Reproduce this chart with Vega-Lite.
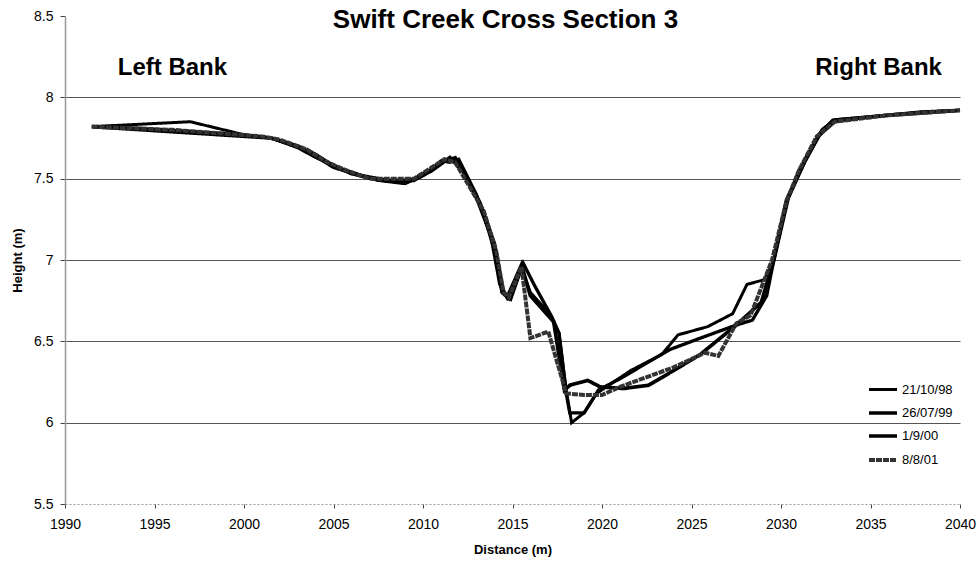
{
  "$schema": "https://vega.github.io/schema/vega-lite/v6.json",
  "width": 895,
  "height": 488,
  "autosize": {"type": "none"},
  "padding": {"left": 65, "top": 16, "right": 17, "bottom": 58},
  "background": "white",
  "title": {"text": "Swift Creek Cross Section 3", "fontSize": 26, "fontWeight": "bold", "font": "Liberation Sans", "anchor": "middle", "baseline": "alphabetic", "offset": -45, "dx": -7, "color": "#000"},
  "config": {
    "view": {"stroke": null},
    "font": "Liberation Sans",
    "axis": {"labelFont": "Liberation Sans", "labelFontSize": 14, "labelColor": "#000", "titleFont": "Liberation Sans", "titleFontSize": 13, "titleFontWeight": "bold", "titleColor": "#000", "tickColor": "#444"}
  },
  "layer": [
    {
      "data": {"values": [
        {"series":"21/10/98","x":1991.5,"y":7.82},{"series":"21/10/98","x":1997,"y":7.85},{"series":"21/10/98","x":2000,"y":7.77},{"series":"21/10/98","x":2001.5,"y":7.75},{"series":"21/10/98","x":2003,"y":7.69},{"series":"21/10/98","x":2004,"y":7.63},{"series":"21/10/98","x":2005,"y":7.58},{"series":"21/10/98","x":2006,"y":7.54},{"series":"21/10/98","x":2007.5,"y":7.49},{"series":"21/10/98","x":2008.5,"y":7.48},{"series":"21/10/98","x":2009.5,"y":7.5},{"series":"21/10/98","x":2010.5,"y":7.56},{"series":"21/10/98","x":2011,"y":7.61},{"series":"21/10/98","x":2011.5,"y":7.6},{"series":"21/10/98","x":2012,"y":7.62},{"series":"21/10/98","x":2013,"y":7.4},{"series":"21/10/98","x":2013.6,"y":7.2},{"series":"21/10/98","x":2014,"y":7.05},{"series":"21/10/98","x":2014.4,"y":6.8},{"series":"21/10/98","x":2014.8,"y":6.76},{"series":"21/10/98","x":2015.5,"y":6.95},{"series":"21/10/98","x":2016,"y":6.8},{"series":"21/10/98","x":2017,"y":6.68},{"series":"21/10/98","x":2017.6,"y":6.55},{"series":"21/10/98","x":2018,"y":6.2},{"series":"21/10/98","x":2018.3,"y":6.0},{"series":"21/10/98","x":2019,"y":6.06},{"series":"21/10/98","x":2019.7,"y":6.18},{"series":"21/10/98","x":2021.6,"y":6.32},{"series":"21/10/98","x":2023.35,"y":6.42},{"series":"21/10/98","x":2024.25,"y":6.54},{"series":"21/10/98","x":2025.9,"y":6.59},{"series":"21/10/98","x":2027.3,"y":6.67},{"series":"21/10/98","x":2028.1,"y":6.85},{"series":"21/10/98","x":2029.1,"y":6.88},{"series":"21/10/98","x":2029.6,"y":7.0},{"series":"21/10/98","x":2030.3,"y":7.35},{"series":"21/10/98","x":2031,"y":7.55},{"series":"21/10/98","x":2032,"y":7.75},{"series":"21/10/98","x":2033,"y":7.85},{"series":"21/10/98","x":2035,"y":7.88},{"series":"21/10/98","x":2038,"y":7.91},{"series":"21/10/98","x":2040,"y":7.92},
        {"series":"26/07/99","x":1991.5,"y":7.82},{"series":"26/07/99","x":1994,"y":7.81},{"series":"26/07/99","x":2000,"y":7.77},{"series":"26/07/99","x":2001.5,"y":7.75},{"series":"26/07/99","x":2003,"y":7.7},{"series":"26/07/99","x":2004,"y":7.65},{"series":"26/07/99","x":2005,"y":7.58},{"series":"26/07/99","x":2006,"y":7.53},{"series":"26/07/99","x":2007.5,"y":7.49},{"series":"26/07/99","x":2009,"y":7.47},{"series":"26/07/99","x":2010,"y":7.52},{"series":"26/07/99","x":2011,"y":7.6},{"series":"26/07/99","x":2011.8,"y":7.63},{"series":"26/07/99","x":2012.5,"y":7.5},{"series":"26/07/99","x":2013.2,"y":7.35},{"series":"26/07/99","x":2014,"y":7.1},{"series":"26/07/99","x":2014.5,"y":6.8},{"series":"26/07/99","x":2014.9,"y":6.76},{"series":"26/07/99","x":2015.6,"y":6.98},{"series":"26/07/99","x":2016.2,"y":6.85},{"series":"26/07/99","x":2017.2,"y":6.65},{"series":"26/07/99","x":2017.6,"y":6.55},{"series":"26/07/99","x":2018,"y":6.18},{"series":"26/07/99","x":2018.2,"y":6.06},{"series":"26/07/99","x":2019,"y":6.06},{"series":"26/07/99","x":2019.8,"y":6.2},{"series":"26/07/99","x":2021,"y":6.27},{"series":"26/07/99","x":2023.8,"y":6.45},{"series":"26/07/99","x":2025.5,"y":6.52},{"series":"26/07/99","x":2027.5,"y":6.6},{"series":"26/07/99","x":2028.4,"y":6.63},{"series":"26/07/99","x":2029.2,"y":6.78},{"series":"26/07/99","x":2029.6,"y":7.0},{"series":"26/07/99","x":2030.3,"y":7.37},{"series":"26/07/99","x":2031.4,"y":7.62},{"series":"26/07/99","x":2032.2,"y":7.78},{"series":"26/07/99","x":2032.9,"y":7.86},{"series":"26/07/99","x":2035,"y":7.88},{"series":"26/07/99","x":2037.8,"y":7.91},{"series":"26/07/99","x":2040,"y":7.92},
        {"series":"1/9/00","x":1991.5,"y":7.82},{"series":"1/9/00","x":2001.5,"y":7.75},{"series":"1/9/00","x":2003,"y":7.7},{"series":"1/9/00","x":2004,"y":7.64},{"series":"1/9/00","x":2005,"y":7.57},{"series":"1/9/00","x":2006.5,"y":7.52},{"series":"1/9/00","x":2008,"y":7.49},{"series":"1/9/00","x":2009.5,"y":7.49},{"series":"1/9/00","x":2010.5,"y":7.55},{"series":"1/9/00","x":2011.5,"y":7.63},{"series":"1/9/00","x":2012.2,"y":7.55},{"series":"1/9/00","x":2013,"y":7.38},{"series":"1/9/00","x":2013.8,"y":7.15},{"series":"1/9/00","x":2014.3,"y":6.85},{"series":"1/9/00","x":2014.7,"y":6.77},{"series":"1/9/00","x":2015.5,"y":6.97},{"series":"1/9/00","x":2016,"y":6.78},{"series":"1/9/00","x":2017.3,"y":6.62},{"series":"1/9/00","x":2017.9,"y":6.2},{"series":"1/9/00","x":2018.2,"y":6.23},{"series":"1/9/00","x":2019.2,"y":6.26},{"series":"1/9/00","x":2019.9,"y":6.22},{"series":"1/9/00","x":2021.2,"y":6.21},{"series":"1/9/00","x":2022.6,"y":6.23},{"series":"1/9/00","x":2024,"y":6.32},{"series":"1/9/00","x":2025.5,"y":6.42},{"series":"1/9/00","x":2027.5,"y":6.6},{"series":"1/9/00","x":2028.9,"y":6.74},{"series":"1/9/00","x":2029.6,"y":7.0},{"series":"1/9/00","x":2030.4,"y":7.38},{"series":"1/9/00","x":2031.3,"y":7.6},{"series":"1/9/00","x":2032.3,"y":7.8},{"series":"1/9/00","x":2033,"y":7.86},{"series":"1/9/00","x":2036,"y":7.89},{"series":"1/9/00","x":2040,"y":7.92},
        {"series":"8/8/01","x":1991.5,"y":7.82},{"series":"8/8/01","x":1996,"y":7.8},{"series":"8/8/01","x":2001,"y":7.76},{"series":"8/8/01","x":2002,"y":7.74},{"series":"8/8/01","x":2003.5,"y":7.68},{"series":"8/8/01","x":2004.5,"y":7.61},{"series":"8/8/01","x":2005.5,"y":7.56},{"series":"8/8/01","x":2007,"y":7.5},{"series":"8/8/01","x":2008.5,"y":7.5},{"series":"8/8/01","x":2009.5,"y":7.5},{"series":"8/8/01","x":2010.5,"y":7.57},{"series":"8/8/01","x":2011.2,"y":7.62},{"series":"8/8/01","x":2011.8,"y":7.6},{"series":"8/8/01","x":2012.6,"y":7.45},{"series":"8/8/01","x":2013.4,"y":7.3},{"series":"8/8/01","x":2014.1,"y":7.05},{"series":"8/8/01","x":2014.5,"y":6.8},{"series":"8/8/01","x":2014.8,"y":6.77},{"series":"8/8/01","x":2015.5,"y":6.96},{"series":"8/8/01","x":2016,"y":6.52},{"series":"8/8/01","x":2017,"y":6.56},{"series":"8/8/01","x":2018,"y":6.18},{"series":"8/8/01","x":2019,"y":6.17},{"series":"8/8/01","x":2020,"y":6.17},{"series":"8/8/01","x":2021,"y":6.22},{"series":"8/8/01","x":2022.5,"y":6.28},{"series":"8/8/01","x":2024,"y":6.34},{"series":"8/8/01","x":2025.75,"y":6.43},{"series":"8/8/01","x":2026.5,"y":6.41},{"series":"8/8/01","x":2027.5,"y":6.61},{"series":"8/8/01","x":2028.3,"y":6.66},{"series":"8/8/01","x":2029.5,"y":7.0},{"series":"8/8/01","x":2030.3,"y":7.36},{"series":"8/8/01","x":2031,"y":7.55},{"series":"8/8/01","x":2032,"y":7.76},{"series":"8/8/01","x":2033,"y":7.85},{"series":"8/8/01","x":2036,"y":7.89},{"series":"8/8/01","x":2040,"y":7.92}
      ]},
      "mark": {"type": "line", "strokeJoin": "miter", "strokeCap": "butt"},
      "encoding": {
        "x": {"field": "x", "type": "quantitative", "scale": {"domain": [1990, 2040], "nice": false, "zero": false},
          "axis": {"title": "Distance (m)", "values": [1990,1995,2000,2005,2010,2015,2020,2025,2030,2035,2040], "format": "d", "grid": false, "tickSize": 4, "labelPadding": 9, "titlePadding": 12, "domainColor": "#999", "domainDash": [2, 2], "labelFlush": false}},
        "y": {"field": "y", "type": "quantitative", "scale": {"domain": [5.5, 8.5], "nice": false, "zero": false},
          "axis": {"title": "Height (m)", "values": [5.5,6,6.5,7,7.5,8,8.5], "format": ".1~f", "tickSize": 5, "labelPadding": 7, "titlePadding": 9, "domainColor": "#999", "domainWidth": 1.5, "grid": true, "gridColor": "#555", "gridWidth": 1, "gridOpacity": {"condition": {"test": "datum.value <= 5.5 || datum.value >= 8.5", "value": 0}, "value": 1}, "labelFlush": false}},
        "color": {"field": "series", "type": "nominal", "sort": ["21/10/98","26/07/99","1/9/00","8/8/01"],
          "scale": {"domain": ["21/10/98","26/07/99","1/9/00","8/8/01"], "range": ["#000000","#000000","#000000","#333333"]},
          "legend": {"title": null, "orient": "none", "legendX": 802, "legendY": 358, "symbolType": "stroke", "symbolSize": 784, "rowPadding": -5.6, "labelFontSize": 13, "labelFont": "Liberation Sans", "labelColor": "#000", "labelOffset": 3, "padding": 0}},
        "strokeWidth": {"field": "series", "type": "nominal", "sort": ["21/10/98","26/07/99","1/9/00","8/8/01"],
          "scale": {"domain": ["21/10/98","26/07/99","1/9/00","8/8/01"], "range": [3, 4, 2.5, 1.8]}},
        "strokeDash": {"field": "series", "type": "nominal", "sort": ["21/10/98","26/07/99","1/9/00","8/8/01"],
          "scale": {"domain": ["21/10/98","26/07/99","1/9/00","8/8/01"], "range": [[1,0],[1,0],[1,0],[6,1]]}}
      }
    },
    {
      "data": {"values": [
        {"label": "Left Bank", "x": 1996, "y": 8.137},
        {"label": "Right Bank", "x": 2035.45, "y": 8.137}
      ]},
      "mark": {"type": "text", "fontSize": 24, "fontWeight": "bold", "font": "Liberation Sans", "align": "center", "baseline": "alphabetic", "color": "#000"},
      "encoding": {
        "x": {"field": "x", "type": "quantitative"},
        "y": {"field": "y", "type": "quantitative"},
        "text": {"field": "label"}
      }
    }
  ]
}
